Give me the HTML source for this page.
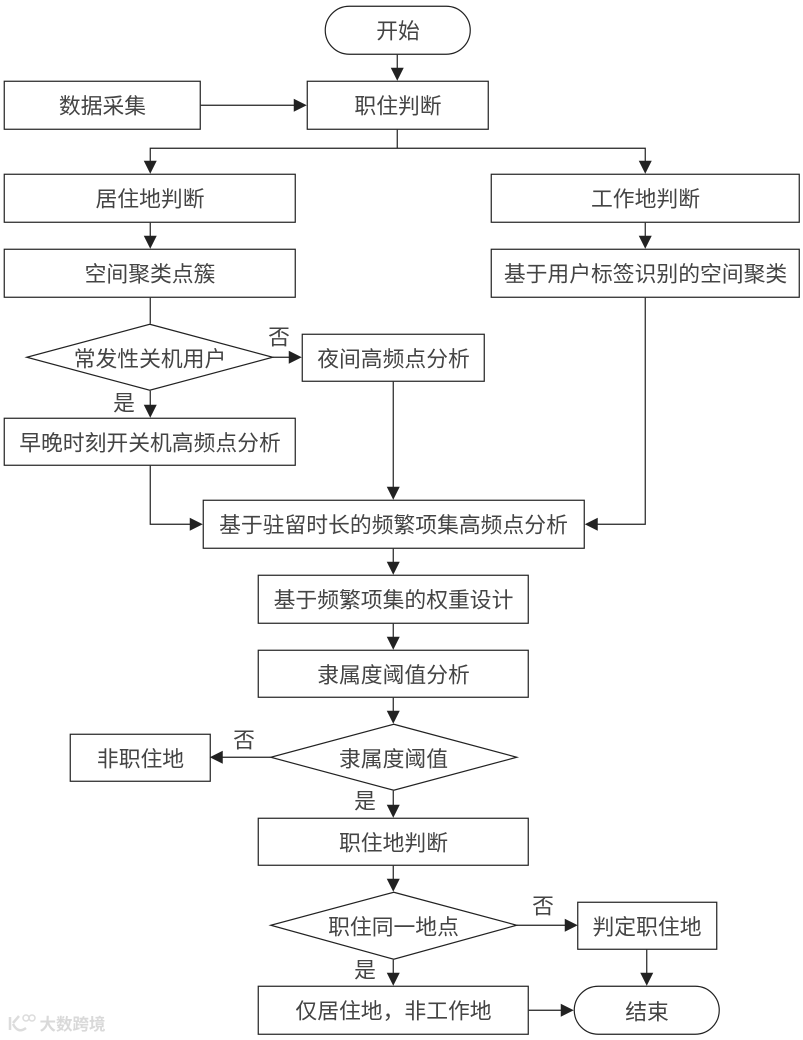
<!DOCTYPE html>
<html><head><meta charset="utf-8"><style>
html,body{margin:0;padding:0;background:#fff;width:803px;height:1040px;overflow:hidden}
svg{display:block}
text{font-family:"Liberation Sans","Noto Sans CJK SC",sans-serif;font-size:21.800px;fill:#444;text-anchor:middle;dominant-baseline:central}
.s{fill:#fff;stroke:#222;stroke-width:1.2}
.l{fill:none;stroke:#222;stroke-width:1.2}
.a{fill:#222;stroke:none}
</style></head><body>
<svg width="803" height="1040" viewBox="0 0 803 1040" xmlns="http://www.w3.org/2000/svg">
<g transform="translate(-0.25,-0.25)">
<rect class="s" x="325.500" y="6.500" width="145" height="48" rx="24"/>
<rect class="s" x="4.500" y="81.500" width="196" height="48"/>
<rect class="s" x="307.500" y="81.500" width="181" height="48"/>
<rect class="s" x="4.500" y="174.500" width="291" height="48"/>
<rect class="s" x="491.500" y="174.500" width="308" height="48"/>
<rect class="s" x="4.500" y="249.500" width="291" height="48"/>
<rect class="s" x="491.500" y="249.500" width="308" height="48"/>
<polygon class="s" points="150,324.500 273,357.500 150,390.500 27,357.500"/>
<rect class="s" x="302.500" y="334.500" width="182" height="47"/>
<rect class="s" x="4.500" y="418.500" width="291" height="47"/>
<rect class="s" x="203.500" y="500.500" width="381" height="48"/>
<rect class="s" x="258.500" y="575.500" width="270" height="48"/>
<rect class="s" x="258.500" y="650.500" width="270" height="47"/>
<polygon class="s" points="394,724.500 517,757.500 394,790.500 271,757.500"/>
<rect class="s" x="70.500" y="734.500" width="140" height="47"/>
<rect class="s" x="258.500" y="818.500" width="270" height="47"/>
<polygon class="s" points="394,892.500 517,925.500 394,959.500 271,925.500"/>
<rect class="s" x="578" y="902.500" width="139" height="47"/>
<rect class="s" x="258.500" y="986.500" width="270" height="48"/>
<rect class="s" x="574.500" y="986.500" width="145" height="48" rx="24"/>
<path class="l" d="M397.500 55V70M201 105.500H295M397.500 130V148.500M150.500 162V148.500H645.500V162M150.500 223V237M645.500 223V237M150.500 298V324M273 357.500H290M150.500 391V406M393.500 382V488M150.500 466V524.500H191M645.500 298V524.500H597M393.500 549V563M393.500 624V638M393.500 698V712M271 757.500H222M393.500 791V806M393.500 866V880M393.500 960V974M517 925.500H566M647 950V974M529 1010.500H562"/>
<path class="a" d="M391 68H404L397.500 81ZM294 99L307 105.500L294 112ZM144 161H157L150.500 174ZM639 161H652L645.500 174ZM144 236H157L150.500 249ZM639 236H652L645.500 249ZM289 351L302 357.500L289 364ZM144 405H157L150.500 418ZM387 487H400L393.500 500ZM190 518L203 524.500L190 531ZM598 518L585 524.500L598 531ZM387 562H400L393.500 575ZM387 637H400L393.500 650ZM387 711H400L393.500 724ZM223 751L210 757.500L223 764ZM387 805H400L393.500 818ZM387 879H400L393.500 892ZM387 973H400L393.500 986ZM565 919L578 925.500L565 932ZM640.500 973H653.500L647 986ZM561 1004L574 1010.500L561 1017Z"/>
</g>
<text x="398" y="31">开始</text>
<text x="102.500" y="106">数据采集</text>
<text x="398" y="106">职住判断</text>
<text x="150" y="199">居住地判断</text>
<text x="645.500" y="199">工作地判断</text>
<text x="150" y="274">空间聚类点簇</text>
<text x="645.500" y="274">基于用户标签识别的空间聚类</text>
<text x="150" y="359">常发性关机用户</text>
<text x="393.500" y="359">夜间高频点分析</text>
<text x="150" y="443">早晚时刻开关机高频点分析</text>
<text x="393.500" y="525">基于驻留时长的频繁项集高频点分析</text>
<text x="393.500" y="600">基于频繁项集的权重设计</text>
<text x="393.500" y="675">隶属度阈值分析</text>
<text x="393.500" y="759">隶属度阈值</text>
<text x="140.500" y="759">非职住地</text>
<text x="393.500" y="843">职住地判断</text>
<text x="393.500" y="927">职住同一地点</text>
<text x="647" y="927">判定职住地</text>
<text x="393.500" y="1011">仅居住地，非工作地</text>
<text x="647" y="1012">结束</text>
<text x="279" y="337">否</text>
<text x="124" y="403">是</text>
<text x="244" y="740">否</text>
<text x="365" y="801">是</text>
<text x="543" y="906">否</text>
<text x="365" y="970">是</text>
<text x="72.500" y="1025" style="font-size:16.500px;fill:#d9d9d9;font-weight:bold">大数跨境</text>
<path d="M10 1017V1030M13 1023L19 1016M13 1024Q18 1034 26 1028" fill="none" stroke="#dcdcdc" stroke-width="2.500"/>
<circle cx="26" cy="1018" r="3" fill="none" stroke="#dcdcdc" stroke-width="1.500"/>
<circle cx="32" cy="1018" r="3" fill="none" stroke="#dcdcdc" stroke-width="1.500"/>
</svg>
</body></html>
